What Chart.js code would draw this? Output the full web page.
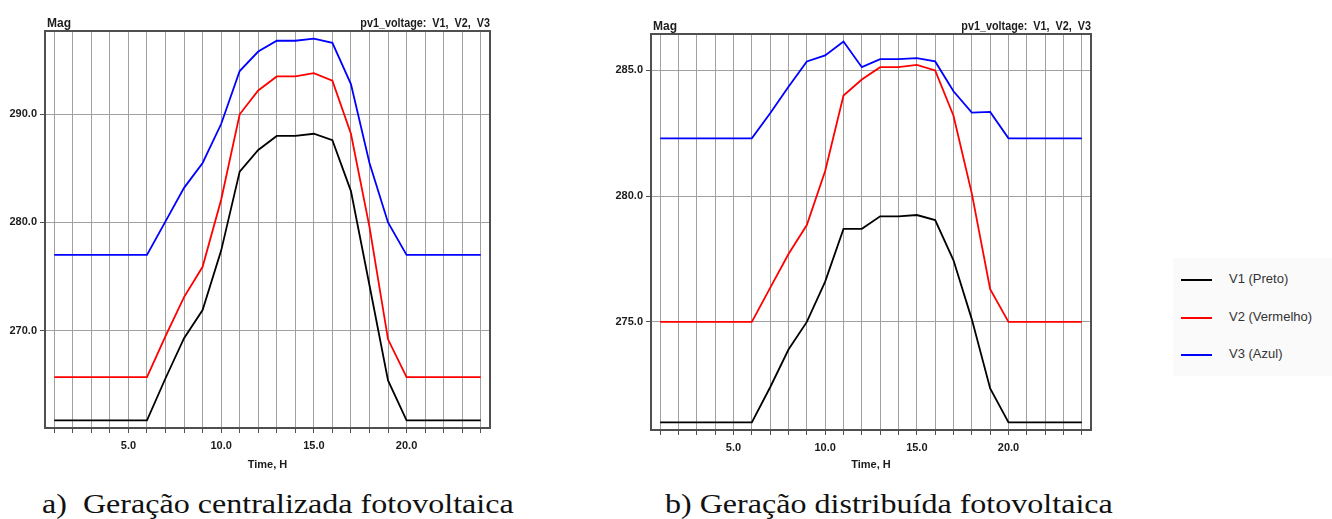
<!DOCTYPE html>
<html><head><meta charset="utf-8">
<script src="https://cdn.jsdelivr.net/npm/chart.js@4.4.1/dist/chart.umd.min.js"></script>
<style>
html,body{margin:0;padding:0;background:#fff;width:1332px;height:519px;overflow:hidden;font-family:"Liberation Sans",Arial,sans-serif}
.box{position:absolute}
.cap{position:absolute;font-family:"Liberation Serif","Times New Roman",serif;font-size:28px;color:#111;white-space:pre;line-height:1;transform:scaleX(1.145);transform-origin:0 0}
#legend{position:absolute;left:1173px;top:258px;width:159px;height:118px;background:#fafafa}
.li{position:absolute;left:0;font-size:13px;color:#333;white-space:nowrap}
.li span.ln{position:absolute;left:8px;top:8px;width:31px;height:2px}
.li span.tx{position:absolute;left:56px;top:0}
</style></head><body>
<div class="box" style="left:0;top:0;width:560px;height:475px"><canvas id="c1"></canvas></div>
<div class="box" style="left:600px;top:0;width:560px;height:475px"><canvas id="c2"></canvas></div>
<div id="legend"></div>
<div class="cap" style="left:42px;top:490px">a)  Geração centralizada fotovoltaica</div>
<div class="cap" style="left:665px;top:490px">b) Geração distribuída fotovoltaica</div>
<script>
const hours = [1,2,3,4,5,6,7,8,9,10,11,12,13,14,15,16,17,18,19,20,21,22,23,24];
const xTickLabels = [5,10,15,20];
const seriesNames = ['V1 (Preto)','V2 (Vermelho)','V3 (Azul)'];
const seriesColors = ['#000000','#ff0000','#0000ff'];

// (a) centralized PV
const aV1 = [261.7,261.7,261.7,261.7,261.7,261.7,265.6,269.3,271.9,277.4,284.7,286.7,288.0,288.0,288.2,287.6,282.9,274.2,265.4,261.7,261.7,261.7,261.7,261.7];
const aV2 = [265.7,265.7,265.7,265.7,265.7,265.7,269.5,273.1,275.9,282.1,290.0,292.2,293.5,293.5,293.8,293.1,288.2,279.6,269.2,265.7,265.7,265.7,265.7,265.7];
const aV3 = [277.0,277.0,277.0,277.0,277.0,277.0,280.1,283.2,285.5,289.1,294.0,295.8,296.8,296.8,297.0,296.6,292.8,285.5,280.0,277.0,277.0,277.0,277.0,277.0];
const aYTicks = [270,280,290];

// (b) distributed PV
const bV1 = [271.0,271.0,271.0,271.0,271.0,271.0,272.4,273.9,275.0,276.6,278.7,278.7,279.2,279.2,279.25,279.05,277.45,275.1,272.35,271.0,271.0,271.0,271.0,271.0];
const bV2 = [275.0,275.0,275.0,275.0,275.0,275.0,276.35,277.7,278.85,281.0,284.0,284.64,285.13,285.13,285.22,285.0,283.2,280.1,276.3,275.0,275.0,275.0,275.0,275.0];
const bV3 = [282.3,282.3,282.3,282.3,282.3,282.3,283.3,284.35,285.36,285.6,286.15,285.13,285.45,285.45,285.49,285.36,284.17,283.32,283.35,282.3,282.3,282.3,282.3,282.3];
const bYTicks = [275,280,285];

const TXT = '#1c1c1c';
const F = {family:'"Liberation Sans", Arial, sans-serif', size:11, weight:'bold'};

const headerPlugin = {
  id:'header',
  afterDraw(chart){
    const {ctx, chartArea:a} = chart;
    ctx.save();
    ctx.fillStyle = TXT;
    ctx.textBaseline = 'alphabetic';
    ctx.font = 'bold 12px "Liberation Sans", Arial, sans-serif';
    ctx.textAlign = 'left';
    ctx.fillText('Mag', a.left + 2, a.top - 4);
    ctx.save();
    ctx.translate(a.right, a.top - 4);
    ctx.scale(0.9, 1);
    ctx.textAlign = 'right';
    ctx.fillText('pv1_voltage:  V1,  V2,  V3', 0, 0);
    ctx.restore();
    ctx.strokeStyle = '#505050';
    ctx.lineWidth = 2;
    ctx.strokeRect(a.left, a.top, a.right - a.left, a.bottom - a.top);
    ctx.restore();
  }
};

function makeChart(id, data, yTicks, ymin, ymax, yWidth, xHeight, pad){
  new Chart(document.getElementById(id), {
    type:'line',
    data:{ labels: hours, datasets: data.map((d,i)=>({
      label: seriesNames[i], data: hours.map((h,j)=>({x:h,y:d[j]})),
      borderColor: seriesColors[i], borderWidth: 1.8, pointRadius: 0, tension: 0, fill:false
    }))},
    options:{
      responsive:true, maintainAspectRatio:false, animation:false,
      layout:{padding:pad},
      plugins:{legend:{display:false}, tooltip:{enabled:false}},
      scales:{
        x:{type:'linear', min:0.5, max:24.5,
          afterBuildTicks(s){ s.ticks = hours.map(v=>({value:v})); },
          afterFit(s){ s.height = xHeight; },
          ticks:{autoSkip:false, maxRotation:0, color:TXT, font:F, padding:6,
            callback:(v)=> xTickLabels.includes(v) ? v.toFixed(1) : ''},
          grid:{color:'#a0a0a0', lineWidth:1, tickLength:5, tickColor:'#505050', drawOnChartArea:true},
          border:{display:false},
          title:{display:true, text:'Time, H', color:TXT, font:F, padding:{top:2,bottom:3}}
        },
        y:{type:'linear', min:ymin, max:ymax,
          afterBuildTicks(s){ s.ticks = yTicks.map(v=>({value:v})); },
          afterFit(s){ s.width = yWidth; },
          ticks:{color:TXT, font:F, padding:3, callback:(v)=>v.toFixed(1)},
          grid:{color:'#a0a0a0', lineWidth:1, tickLength:5, tickColor:'#505050'},
          border:{display:false}
        }
      }
    },
    plugins:[headerPlugin]
  });
}

makeChart('c1', [aV1,aV2,aV3], aYTicks, 261.0, 297.7, 45, 47, {left:0,right:70,top:31,bottom:0});
makeChart('c2', [bV1,bV2,bV3], bYTicks, 270.7, 286.45, 51, 45, {left:0,right:69,top:34,bottom:0});

const lg = document.getElementById('legend');
seriesNames.forEach((n,i)=>{
  const d = document.createElement('div');
  d.className = 'li';
  d.style.top = (13 + i*37.7) + 'px';
  d.innerHTML = '<span class="ln" style="background:'+seriesColors[i]+'"></span><span class="tx">'+n+'</span>';
  lg.appendChild(d);
});
</script>
</body></html>
